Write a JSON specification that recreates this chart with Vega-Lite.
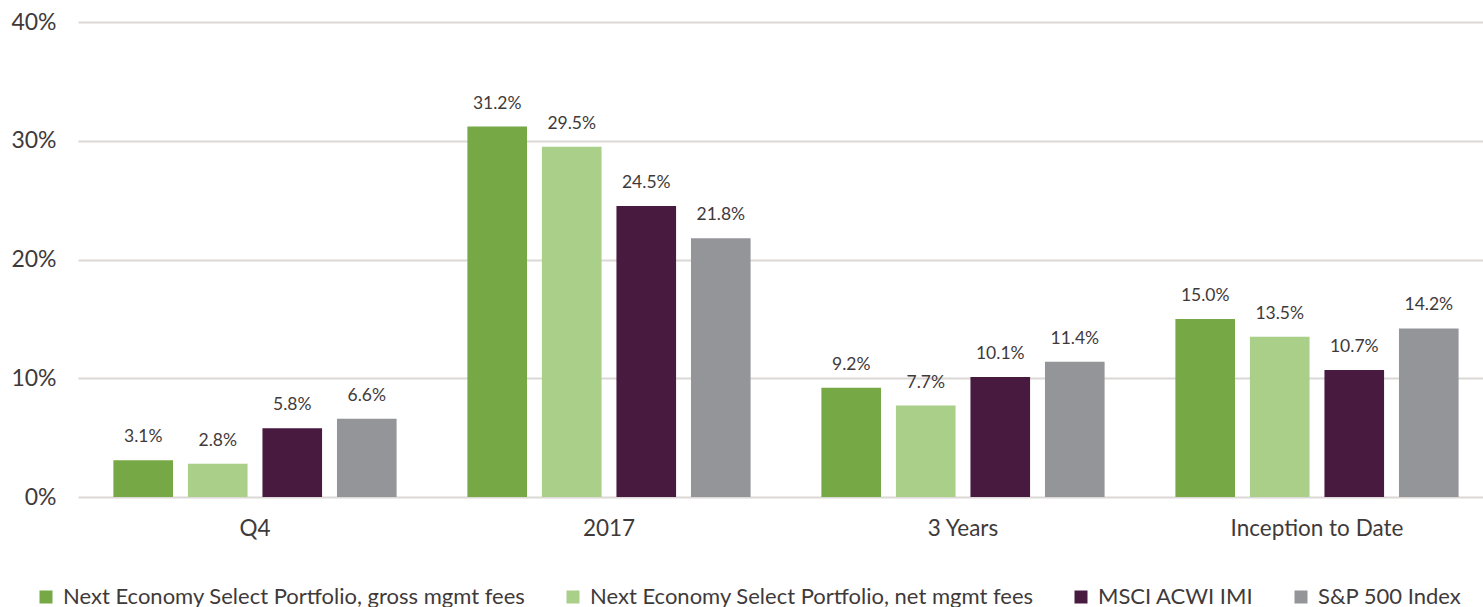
{
  "$schema": "https://vega.github.io/schema/vega-lite/v6.json",
  "width": 1416,
  "height": 475,
  "padding": {"left": 10, "top": 11, "right": 0, "bottom": 0},
  "background": "white",
  "config": {
    "font": "Lato",
    "view": {"stroke": null},
    "axis": {"labelFont": "Lato", "labelColor": "#3f3a3a"},
    "legend": {"labelFont": "Lato"}
  },
  "data": {
    "values": [
      {"period": "Q4", "series": "Next Economy Select Portfolio, gross mgmt fees", "value": 0.031},
      {"period": "Q4", "series": "Next Economy Select Portfolio, net mgmt fees", "value": 0.028},
      {"period": "Q4", "series": "MSCI ACWI IMI", "value": 0.058},
      {"period": "Q4", "series": "S&P 500 Index", "value": 0.066},
      {"period": "2017", "series": "Next Economy Select Portfolio, gross mgmt fees", "value": 0.312},
      {"period": "2017", "series": "Next Economy Select Portfolio, net mgmt fees", "value": 0.295},
      {"period": "2017", "series": "MSCI ACWI IMI", "value": 0.245},
      {"period": "2017", "series": "S&P 500 Index", "value": 0.218},
      {"period": "3 Years", "series": "Next Economy Select Portfolio, gross mgmt fees", "value": 0.092},
      {"period": "3 Years", "series": "Next Economy Select Portfolio, net mgmt fees", "value": 0.077},
      {"period": "3 Years", "series": "MSCI ACWI IMI", "value": 0.101},
      {"period": "3 Years", "series": "S&P 500 Index", "value": 0.114},
      {"period": "Inception to Date", "series": "Next Economy Select Portfolio, gross mgmt fees", "value": 0.150},
      {"period": "Inception to Date", "series": "Next Economy Select Portfolio, net mgmt fees", "value": 0.135},
      {"period": "Inception to Date", "series": "MSCI ACWI IMI", "value": 0.107},
      {"period": "Inception to Date", "series": "S&P 500 Index", "value": 0.142}
    ]
  },
  "encoding": {
    "x": {
      "field": "period",
      "type": "nominal",
      "sort": ["Q4", "2017", "3 Years", "Inception to Date"],
      "scale": {"paddingInner": 0.2, "paddingOuter": 0.1},
      "axis": {"title": null, "labelAngle": 0, "labelFontSize": 22.5, "labelPadding": 20, "ticks": false, "domain": false}
    },
    "xOffset": {
      "field": "series",
      "type": "nominal",
      "sort": ["Next Economy Select Portfolio, gross mgmt fees", "Next Economy Select Portfolio, net mgmt fees", "MSCI ACWI IMI", "S&P 500 Index"],
      "scale": {"paddingInner": 0.2, "paddingOuter": 0}
    },
    "y": {
      "field": "value",
      "type": "quantitative",
      "scale": {"domain": [0, 0.4]},
      "axis": {"title": null, "format": ".0%", "values": [0, 0.1, 0.2, 0.3, 0.4], "labelFontSize": 23, "labelPadding": 22, "ticks": false, "domain": false, "gridColor": "#dcd8d6", "gridWidth": 2}
    }
  },
  "layer": [
    {
      "mark": {"type": "bar"},
      "encoding": {
        "color": {
          "field": "series",
          "type": "nominal",
          "sort": ["Next Economy Select Portfolio, gross mgmt fees", "Next Economy Select Portfolio, net mgmt fees", "MSCI ACWI IMI", "S&P 500 Index"],
          "scale": {
            "domain": ["Next Economy Select Portfolio, gross mgmt fees", "Next Economy Select Portfolio, net mgmt fees", "MSCI ACWI IMI", "S&P 500 Index"],
            "range": ["#76a846", "#a9cf89", "#481a40", "#939598"]
          },
          "legend": {
            "title": null,
            "orient": "none",
            "direction": "horizontal",
            "legendX": -43,
            "legendY": 564,
            "symbolType": "square",
            "symbolSize": 169,
            "symbolStrokeWidth": 0,
            "labelFontSize": 22,
            "labelColor": "#3f3a3a",
            "labelLimit": 600,
            "columnPadding": 36,
            "symbolOffset": 0,
            "labelOffset": 6
          }
        }
      }
    },
    {
      "mark": {"type": "text", "baseline": "bottom", "dy": -14, "fontSize": 17.5, "color": "#3f3a3a"},
      "encoding": {
        "text": {"field": "value", "type": "quantitative", "format": ".1%"}
      }
    }
  ]
}
